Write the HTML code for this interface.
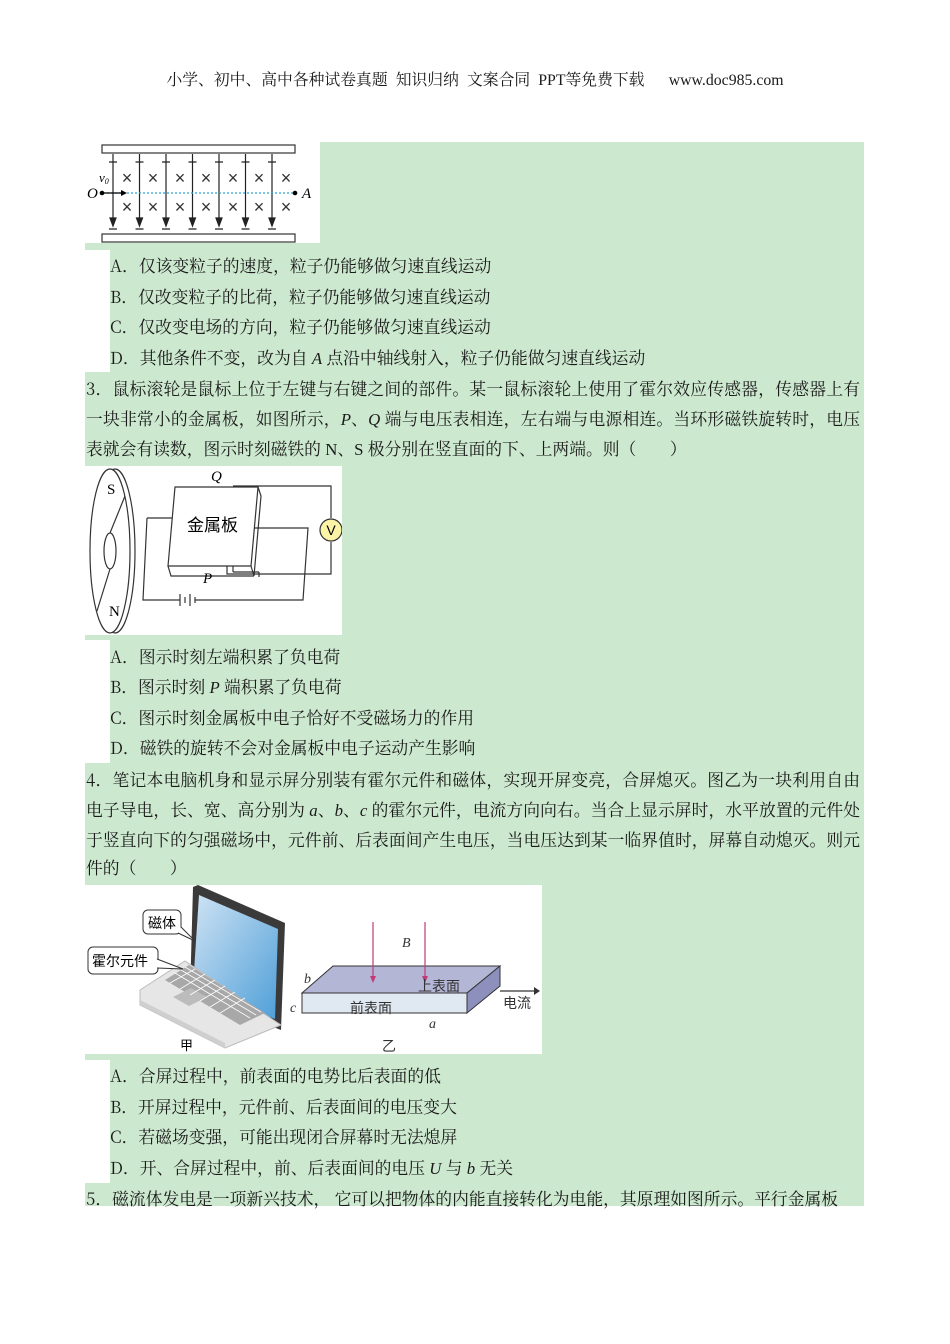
<!DOCTYPE html>
<html><head><meta charset="utf-8"><style>
html,body{margin:0;padding:0;background:#fff}
body{width:950px;height:1344px;position:relative;overflow:hidden;font-family:"Noto Serif CJK SC","Liberation Serif",serif;color:#1a1a1a}
.g{position:absolute;background:#cce8cf}
.w{position:absolute;background:#fff}
.t{position:absolute;font-size:16.8px;line-height:22px;white-space:nowrap}
.j{text-align:justify;text-align-last:justify;white-space:normal;height:22px;overflow:hidden}
.hd{position:absolute;top:67px;left:0;width:950px;text-align:center;font-size:15.8px;white-space:pre}
i,.l{font-family:"Liberation Serif",serif}
svg{position:absolute}
</style></head><body>
<div class="hd">小学、初中、高中各种试卷真题  知识归纳  文案合同  <span class="l">PPT</span>等免费下载      <span class="l">www.doc985.com</span></div>
<div class="g" style="left:85px;top:142px;width:779px;height:1064px"></div>
<div class="w" style="left:85px;top:250px;width:25px;height:122px"></div>
<div class="w" style="left:85px;top:640px;width:25px;height:123px"></div>
<div class="w" style="left:85px;top:1060px;width:25px;height:123px"></div>

<!-- fig1 -->
<div class="w" style="left:85px;top:142px;width:235px;height:101px"></div>
<svg style="left:85px;top:142px" width="235" height="101" viewBox="0 0 235 101">
<rect x="17" y="3" width="193" height="8" fill="#fff" stroke="#333" stroke-width="1.2"/>
<rect x="17" y="92" width="193" height="8" fill="#fff" stroke="#333" stroke-width="1.2"/>
<g stroke="#222" stroke-width="1.2" fill="none">
<g id="c"><line x1="28" y1="12" x2="28" y2="82"/><path d="M24 20h8M24 87h8"/><path d="M25 76l3 8 3-8z" fill="#222"/></g>
<use href="#c" x="26.5"/><use href="#c" x="53"/><use href="#c" x="79.5"/><use href="#c" x="106"/><use href="#c" x="132.5"/><use href="#c" x="159"/>
</g>
<line x1="18" y1="51" x2="211" y2="51" stroke="#29a9d6" stroke-width="1.2" stroke-dasharray="2,2"/>
<circle cx="17" cy="51" r="2.3" fill="#000"/><circle cx="210" cy="51" r="2.3" fill="#000"/>
<path d="M17 51h20" stroke="#000" stroke-width="1.2"/><path d="M36 48l6 3-6 3z" fill="#000"/>
<g font-family="Liberation Sans" font-size="18" fill="#333" text-anchor="middle">
<text x="42" y="42">×</text><text x="68" y="42">×</text><text x="95" y="42">×</text><text x="121" y="42">×</text><text x="148" y="42">×</text><text x="174" y="42">×</text><text x="201" y="42">×</text>
<text x="42" y="71">×</text><text x="68" y="71">×</text><text x="95" y="71">×</text><text x="121" y="71">×</text><text x="148" y="71">×</text><text x="174" y="71">×</text><text x="201" y="71">×</text>
</g>
<text x="2" y="56" font-size="15" font-style="italic" font-family="Liberation Serif">O</text>
<text x="14" y="40" font-size="13" font-style="italic" font-family="Liberation Serif">v<tspan font-size="8" dy="2">0</tspan></text>
<text x="217" y="56" font-size="15" font-style="italic" font-family="Liberation Serif">A</text>
</svg>

<div class="t" style="left:110px;top:254px">A．仅该变粒子的速度，粒子仍能够做匀速直线运动</div>
<div class="t" style="left:110px;top:285px">B．仅改变粒子的比荷，粒子仍能够做匀速直线运动</div>
<div class="t" style="left:110px;top:315px">C．仅改变电场的方向，粒子仍能够做匀速直线运动</div>
<div class="t" style="left:110px;top:346px">D．其他条件不变，改为自 <i>A</i> 点沿中轴线射入，粒子仍能做匀速直线运动</div>
<div class="t j" style="left:86px;top:377px;width:774px">3．鼠标滚轮是鼠标上位于左键与右键之间的部件。某一鼠标滚轮上使用了霍尔效应传感器，传感器上有</div>
<div class="t j" style="left:86px;top:407px;width:774px">一块非常小的金属板，如图所示，<i>P</i>、<i>Q</i> 端与电压表相连，左右端与电源相连。当环形磁铁旋转时，电压</div>
<div class="t" style="left:86px;top:437px">表就会有读数，图示时刻磁铁的 <span class="l">N</span>、<span class="l">S</span> 极分别在竖直面的下、上两端。则（　　）</div>

<!-- fig2 -->
<div class="w" style="left:85px;top:466px;width:257px;height:169px"></div>
<svg style="left:85px;top:466px" width="257" height="169" viewBox="0 0 257 169">
<g stroke="#333" stroke-width="1.2" fill="none">
<ellipse cx="30" cy="85" rx="20" ry="82" fill="#fff"/>
<ellipse cx="25" cy="85" rx="20" ry="82" fill="#fff"/>
<ellipse cx="25" cy="85" rx="6" ry="18"/>
<path d="M25 67L40 30M25 103L12 145"/>
<path d="M62 52H148M148 52V106M148 106H174M174 106V111"/>
<path d="M148 53V23"/>
<path d="M62 52L58 134H95M110 134H218L223 62H168"/>
<path d="M148 20H246V52M246 76V108H142V98"/>
<path d="M95 128v12M100 131v6M105 128v12M110 131v6"/>
<path d="M90 21L173 21 L166 100 L83 100Z" fill="#fff"/>
<path d="M173 21L176 30 L169 110 L166 100M83 100L86 110 L169 110"/>
</g>
<circle cx="246" cy="64" r="11" fill="#fbf3a6" stroke="#333" stroke-width="1.2"/>
<text x="246" y="69" font-size="14" text-anchor="middle" font-family="Liberation Sans">V</text>
<text x="102" y="65" font-size="17" font-family="Noto Sans CJK SC">金属板</text>
<text x="126" y="15" font-size="15" font-style="italic" font-family="Liberation Serif">Q</text>
<text x="118" y="117" font-size="15" font-style="italic" font-family="Liberation Serif">P</text>
<text x="22" y="28" font-size="15" font-family="Liberation Serif">S</text>
<text x="24" y="150" font-size="15" font-family="Liberation Serif">N</text>
</svg>

<div class="t" style="left:110px;top:645px">A．图示时刻左端积累了负电荷</div>
<div class="t" style="left:110px;top:675px">B．图示时刻 <i>P</i> 端积累了负电荷</div>
<div class="t" style="left:110px;top:706px">C．图示时刻金属板中电子恰好不受磁场力的作用</div>
<div class="t" style="left:110px;top:736px">D．磁铁的旋转不会对金属板中电子运动产生影响</div>
<div class="t j" style="left:86px;top:768px;width:774px">4．笔记本电脑机身和显示屏分别装有霍尔元件和磁体，实现开屏变亮，合屏熄灭。图乙为一块利用自由</div>
<div class="t j" style="left:86px;top:798px;width:774px">电子导电，长、宽、高分别为 <i>a</i>、<i>b</i>、<i>c</i> 的霍尔元件，电流方向向右。当合上显示屏时，水平放置的元件处</div>
<div class="t j" style="left:86px;top:828px;width:774px">于竖直向下的匀强磁场中，元件前、后表面间产生电压，当电压达到某一临界值时，屏幕自动熄灭。则元</div>
<div class="t" style="left:86px;top:856px">件的（　　）</div>

<!-- fig3 -->
<div class="w" style="left:85px;top:885px;width:457px;height:169px"></div>
<svg style="left:85px;top:885px" width="457" height="169" viewBox="0 0 457 169">
<defs><linearGradient id="sc" x1="0" y1="0" x2="1" y2="1"><stop offset="0" stop-color="#cfe3f4"/><stop offset="1" stop-color="#4f9fd8"/></linearGradient></defs>
<path d="M108 2L113 0L200 38L196 145L105 110Z" fill="#3a3a3a"/>
<path d="M114 10L193 44L190 134L108 102Z" fill="url(#sc)"/>
<path d="M55 105L100 76L196 140L140 163L55 120Z" fill="#e6e6e6" stroke="#bbb"/>
<path d="M55 120L140 163L140 158L55 115Z" fill="#cfcfcf"/>
<path d="M80 95L104 80L180 128L155 140Z" fill="#a8a8a8"/>
<path d="M88 112L106 103L122 112L104 121Z" fill="#bcbcbc"/>
<g stroke="#fff" stroke-width="0.8"><path d="M85 98L110 84M95 104L120 89M105 110L130 95M115 116L140 101M125 122L150 107M135 128L160 113"/><path d="M90 88L165 133M96 85L171 130M100 82L176 127"/></g>
<rect x="58" y="25" width="38" height="24" rx="5" fill="#fff" stroke="#333"/>
<path d="M96 42L110 56L93 48" fill="#fff" stroke="#333"/>
<text x="63" y="43" font-size="14" font-family="Noto Sans CJK SC">磁体</text>
<rect x="3" y="62" width="70" height="27" rx="5" fill="#fff" stroke="#333"/>
<path d="M72 74L98 84L72 83" fill="#fff" stroke="#333"/>
<text x="7" y="81" font-size="14" font-family="Noto Sans CJK SC">霍尔元件</text>
<text x="95" y="165" font-size="13" font-family="Noto Sans CJK SC">甲</text>
<path d="M248 81H415L382 108H217Z" fill="#b4b6d6" stroke="#333"/>
<path d="M217 108H382V128H217Z" fill="#e0e8f2" stroke="#333"/>
<path d="M382 108L415 81V101L382 128Z" fill="#8d90bd" stroke="#333"/>
<path d="M415 106H452" stroke="#333" stroke-width="1.2"/><path d="M449 102l6 4-6 4z" fill="#333"/>
<g stroke="#c23b78" stroke-width="1.2"><path d="M288 37V95M340 37V95"/></g>
<path d="M285 91l3 7 3-7zM337 91l3 7 3-7z" fill="#c23b78"/>
<g font-size="14" font-family="Noto Sans CJK SC" fill="#333">
<text x="333" y="106">上表面</text><text x="265" y="128">前表面</text><text x="418" y="123">电流</text><text x="297" y="166">乙</text></g>
<g font-size="14" font-style="italic" font-family="Liberation Serif" fill="#333">
<text x="317" y="62">B</text><text x="219" y="98">b</text><text x="205" y="127">c</text><text x="344" y="143">a</text></g>
</svg>

<div class="t" style="left:110px;top:1064px">A．合屏过程中，前表面的电势比后表面的低</div>
<div class="t" style="left:110px;top:1095px">B．开屏过程中，元件前、后表面间的电压变大</div>
<div class="t" style="left:110px;top:1125px">C．若磁场变强，可能出现闭合屏幕时无法熄屏</div>
<div class="t" style="left:110px;top:1156px">D．开、合屏过程中，前、后表面间的电压 <i>U</i> 与 <i>b</i> 无关</div>
<div class="t" style="left:86px;top:1187px">5．磁流体发电是一项新兴技术，  它可以把物体的内能直接转化为电能，其原理如图所示。平行金属板</div>
</body></html>
